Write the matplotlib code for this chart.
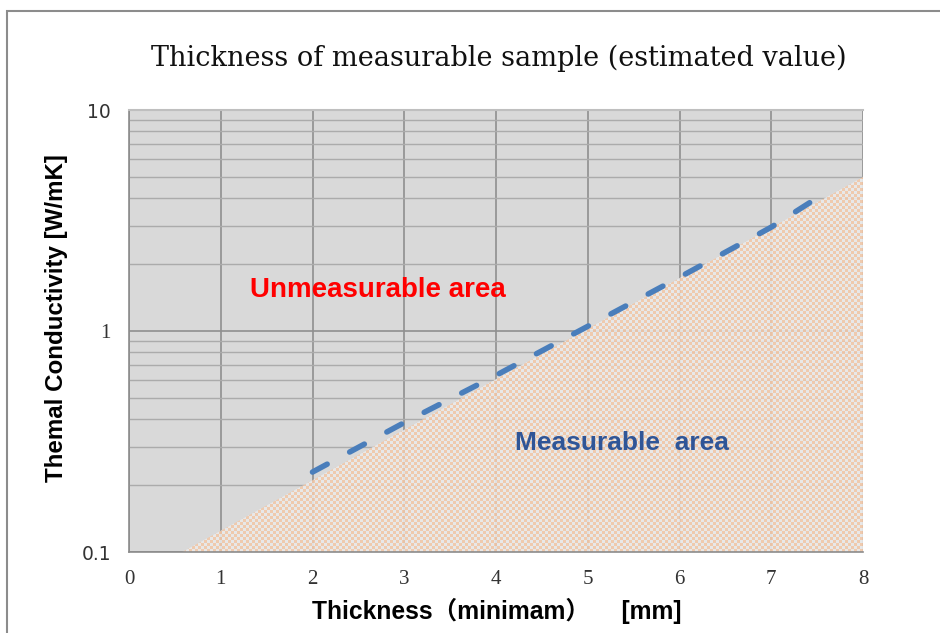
import numpy as np
import matplotlib
matplotlib.use("Agg")
import matplotlib.pyplot as plt
from matplotlib.patches import Rectangle
from matplotlib.ticker import FixedLocator, LogLocator, NullFormatter

# ---- data ----
fill_x = [0.58, 8.0]            # measurable area boundary (thickness, mm)
fill_y = [0.1, 4.97]            # conductivity W/mK
line_x = [2, 3, 4, 5, 6, 7, 7.5]
line_y = [0.23, 0.385, 0.63, 1.05, 1.75, 2.95, 4.0]
x_ticks = [0, 1, 2, 3, 4, 5, 6, 7, 8]
y_ticks = [0.1, 1, 10]
y_tick_labels = ["0.1", "1", "10"]

title = "Thickness of measurable sample (estimated value)"
xlabel = "Thickness（minimam）　 [mm]"
ylabel = "Themal Conductivity [W/mK]"

fig = plt.figure(figsize=(9.4, 6.33), dpi=100)
ax = fig.add_axes([129/940, 1-552/633, (863-129)/940, (552-110)/633])
ax.set_facecolor("#d9d9d9")
ax.set_yscale("log")
ax.set_xlim(0, 8)
ax.set_ylim(0.1, 10)

# grid
ax.set_axisbelow(True)
ax.xaxis.set_major_locator(FixedLocator(x_ticks))
ax.yaxis.set_major_locator(FixedLocator(y_ticks))
ax.yaxis.set_minor_locator(LogLocator(base=10, subs=np.arange(2, 10)))
ax.yaxis.set_minor_formatter(NullFormatter())
ax.grid(True, which="major", axis="x", color="#8f8f8f", lw=1.2)
ax.grid(True, which="major", axis="y", color="#8f8f8f", lw=1.2)
ax.grid(True, which="minor", axis="y", color="#ababab", lw=1.0)

# measurable area with checker texture
xs = np.array(fill_x)
ys = np.array(fill_y)
poly = ax.fill_between(xs, ys, 0.1, facecolor="none", edgecolor="none", zorder=2)
nyc, nxc = 147, 245
ii, jj = np.mgrid[0:nyc, 0:nxc]
chk = ((ii + jj) % 2 == 0)
img = np.zeros((nyc, nxc, 4))
c1 = np.array([0xf3, 0xc8, 0xa8]) / 255
c2 = np.array([0xeb, 0xeb, 0xeb]) / 255
img[chk, :3] = c1
img[~chk, :3] = c2
img[..., 3] = 0.88
im = ax.imshow(img, extent=[0, 1, 0, 1], transform=ax.transAxes,
               interpolation="nearest", aspect="auto", zorder=2)
im.set_clip_path(poly.get_paths()[0], transform=ax.transData)
ax.set_xlim(0, 8)
ax.set_ylim(0.1, 10)

# dashed boundary line
ax.plot(line_x, line_y, color="#4a7ebb", lw=4.0, dashes=(3.0, 4.6),
        solid_capstyle="round", dash_capstyle="round", zorder=3)

# spines
for s in ["left", "bottom"]:
    ax.spines[s].set_color("#8c8c8c")
    ax.spines[s].set_linewidth(1.2)
ax.spines["top"].set_color("#bfbfbf")
ax.spines["top"].set_linewidth(1.5)
ax.spines["right"].set_visible(False)

ax.tick_params(which="both", length=0)
ax.set_xticklabels([str(v) for v in x_ticks], fontfamily="Liberation Serif",
                   fontsize=15, color="#333333")
ax.tick_params(axis="x", pad=13)
ax.tick_params(axis="y", pad=13)
ax.set_yticklabels(y_tick_labels, fontsize=13.5, color="#333333")
for lab in ax.get_yticklabels():
    if lab.get_text() == "1":
        lab.set_fontfamily("Liberation Serif")
        lab.set_fontsize(15)
    else:
        lab.set_fontfamily("DejaVu Sans")

# labels
fig.text(499/940, 1-58/633, title, ha="center", va="center",
         fontfamily="DejaVu Serif", fontsize=19.5, color="#111111")
fig.text(497/940, 1-611/633, xlabel, ha="center", va="center",
         fontfamily=["Liberation Sans", "Noto Sans CJK JP"], fontweight="bold",
         fontsize=17.7, color="black")
fig.text(57/940, 1-318/633, ylabel, ha="center", va="center", rotation=90,
         fontfamily="Liberation Sans", fontweight="bold", fontsize=17.4, color="black")

ax.text(378/940, 1-290/633, "Unmeasurable area", transform=fig.transFigure,
        ha="center", va="center", fontfamily="Liberation Sans", fontweight="bold",
        fontsize=20, color="#ff0000", zorder=4)
ax.text(622/940, 1-443/633, "Measurable  area", transform=fig.transFigure,
        ha="center", va="center", fontfamily="Liberation Sans", fontweight="bold",
        fontsize=19, color="#2f5597", zorder=4)

# outer border
fig.patches.append(Rectangle((7/940, -0.05), 1.0, 1-11/633+0.05,
                             transform=fig.transFigure, fill=False,
                             edgecolor="#8c8c8c", lw=1.5))

fig.savefig("out.png", dpi=100)
